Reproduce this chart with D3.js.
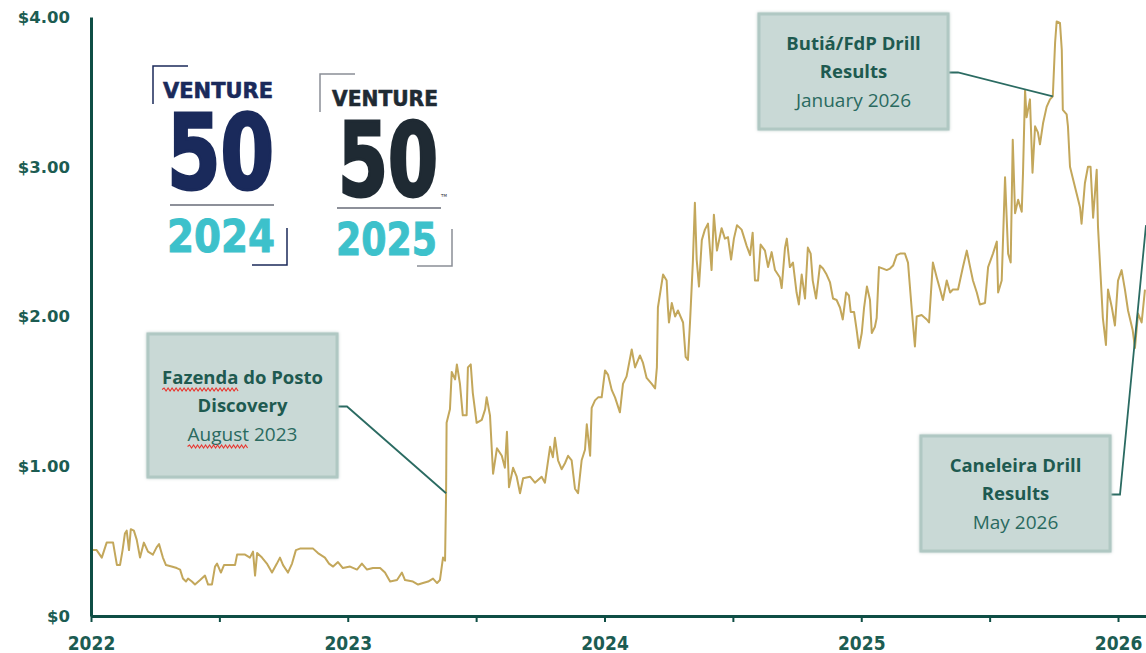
<!DOCTYPE html>
<html>
<head>
<meta charset="utf-8">
<script src="https://cdn.jsdelivr.net/npm/d3@7"></script>
<style>
	body { margin: 0; background: #fff; }
	svg { display: block; }
</style>
</head>
<body>
<div id="chart"></div>
<script>
// share price, [decimal year, close $]
const prices2022 = [
	[2022.003,0.44],[2022.022,0.44],[2022.042,0.39],[2022.061,0.49],[2022.086,0.49],[2022.101,0.34],[2022.113,0.34],[2022.123,0.44],[2022.132,0.55],[2022.139,0.57],
	[2022.148,0.44],[2022.155,0.58],[2022.167,0.57],[2022.178,0.51],[2022.191,0.39],[2022.206,0.49],[2022.222,0.43],[2022.241,0.41],[2022.256,0.46],[2022.265,0.48],
	[2022.280,0.39],[2022.292,0.34],[2022.314,0.33],[2022.334,0.32],[2022.347,0.31],[2022.358,0.25],[2022.370,0.23],[2022.378,0.25],[2022.393,0.23],[2022.405,0.21],
	[2022.425,0.24],[2022.444,0.27],[2022.456,0.21],[2022.471,0.21],[2022.483,0.33],[2022.491,0.35],[2022.506,0.29],[2022.518,0.34],[2022.561,0.34],[2022.569,0.41],
	[2022.600,0.41],[2022.619,0.39],[2022.631,0.43],[2022.639,0.27],[2022.647,0.42],[2022.666,0.39],[2022.685,0.35],[2022.705,0.29],[2022.724,0.35],[2022.736,0.39],
	[2022.748,0.34],[2022.767,0.29],[2022.783,0.35],[2022.798,0.44],[2022.814,0.45],[2022.865,0.45],[2022.884,0.42],[2022.911,0.39],[2022.927,0.35],[2022.943,0.33],
	[2022.962,0.36],[2022.981,0.32]
];
const prices2023 = [
	[2023.009,0.33],[2023.036,0.31],[2023.055,0.35],[2023.075,0.31],[2023.098,0.32],[2023.126,0.32],[2023.145,0.29],[2023.165,0.23],[2023.192,0.24],[2023.211,0.29],
	[2023.223,0.24],[2023.254,0.23],[2023.274,0.21],[2023.293,0.22],[2023.313,0.23],[2023.332,0.25],[2023.348,0.22],[2023.359,0.24],[2023.371,0.39],[2023.379,0.37],
	[2023.383,0.82],[2023.384,1.07],[2023.385,1.29],[2023.398,1.38],[2023.405,1.63],[2023.418,1.58],[2023.425,1.68],[2023.437,1.55],[2023.448,1.34],[2023.463,1.34],
	[2023.468,1.66],[2023.479,1.68],[2023.487,1.49],[2023.502,1.29],[2023.522,1.31],[2023.535,1.38],[2023.541,1.46],[2023.554,1.34],[2023.566,0.95],[2023.581,1.12],
	[2023.600,1.07],[2023.612,0.99],[2023.620,1.23],[2023.628,0.86],[2023.644,0.99],[2023.658,0.93],[2023.671,0.82],[2023.683,0.92],[2023.710,0.93],[2023.729,0.89],
	[2023.755,0.93],[2023.768,0.89],[2023.788,1.13],[2023.799,1.06],[2023.807,1.19],[2023.819,1.04],[2023.833,0.98],[2023.846,1.02],[2023.858,1.07],[2023.872,1.04],
	[2023.885,0.85],[2023.897,0.82],[2023.911,1.04],[2023.924,1.11],[2023.931,1.28],[2023.944,1.07],[2023.950,1.39],[2023.963,1.44],[2023.975,1.46],[2023.989,1.46]
];
const prices2024 = [
	[2024.002,1.64],[2024.014,1.61],[2024.028,1.51],[2024.041,1.46],[2024.060,1.36],[2024.072,1.55],[2024.086,1.60],[2024.106,1.78],[2024.119,1.66],[2024.138,1.74],
	[2024.150,1.69],[2024.164,1.59],[2024.184,1.55],[2024.197,1.52],[2024.204,1.66],[2024.208,2.06],[2024.228,2.28],[2024.242,2.24],[2024.247,2.06],[2024.251,1.96],
	[2024.262,2.09],[2024.275,2.00],[2024.286,2.04],[2024.306,1.96],[2024.316,1.73],[2024.325,1.71],[2024.333,1.96],[2024.344,2.36],[2024.352,2.76],[2024.359,2.38],
	[2024.368,2.20],[2024.379,2.51],[2024.391,2.58],[2024.403,2.62],[2024.417,2.31],[2024.426,2.68],[2024.438,2.44],[2024.456,2.59],[2024.469,2.52],[2024.481,2.53],
	[2024.493,2.38],[2024.504,2.52],[2024.516,2.61],[2024.534,2.58],[2024.554,2.47],[2024.567,2.41],[2024.577,2.56],[2024.586,2.24],[2024.598,2.24],[2024.608,2.48],
	[2024.625,2.44],[2024.637,2.33],[2024.651,2.43],[2024.664,2.31],[2024.683,2.26],[2024.690,2.19],[2024.703,2.46],[2024.710,2.52],[2024.722,2.33],[2024.734,2.36],
	[2024.748,2.16],[2024.757,2.08],[2024.768,2.28],[2024.781,2.12],[2024.792,2.46],[2024.803,2.42],[2024.811,2.24],[2024.824,2.12],[2024.839,2.34],[2024.851,2.32],
	[2024.865,2.28],[2024.878,2.23],[2024.890,2.12],[2024.904,2.11],[2024.917,2.06],[2024.928,1.98],[2024.941,2.16],[2024.952,2.14],[2024.959,2.03],[2024.972,2.03],
	[2024.982,1.91],[2024.991,1.79]
];
const prices2025 = [
	[2025.002,1.89],[2025.011,2.06],[2025.022,2.20],[2025.034,2.11],[2025.041,1.89],[2025.053,1.93],[2025.060,1.99],[2025.069,2.33],[2025.085,2.32],[2025.099,2.31],
	[2025.112,2.32],[2025.124,2.34],[2025.138,2.41],[2025.151,2.42],[2025.170,2.42],[2025.182,2.36],[2025.196,2.06],[2025.209,1.80],[2025.216,2.00],[2025.235,2.01],
	[2025.255,1.98],[2025.264,1.96],[2025.279,2.36],[2025.294,2.26],[2025.307,2.18],[2025.318,2.11],[2025.333,2.24],[2025.346,2.16],[2025.357,2.18],[2025.377,2.18],
	[2025.396,2.33],[2025.411,2.44],[2025.424,2.33],[2025.435,2.24],[2025.450,2.16],[2025.462,2.08],[2025.482,2.09],[2025.494,2.33],[2025.513,2.42],[2025.528,2.50],
	[2025.533,2.16],[2025.547,2.24],[2025.560,2.93],[2025.572,2.42],[2025.582,2.36],[2025.590,3.18],[2025.599,2.69],[2025.611,2.78],[2025.625,2.70],[2025.630,2.96],
	[2025.638,3.51],[2025.644,3.33],[2025.657,3.45],[2025.667,2.96],[2025.677,3.27],[2025.688,3.23],[2025.696,3.15],[2025.708,3.29],[2025.722,3.40],[2025.735,3.45],
	[2025.746,3.47],[2025.755,3.83],[2025.761,3.97],[2025.774,3.96],[2025.781,3.78],[2025.785,3.38],[2025.800,3.35],[2025.805,3.27],[2025.813,3.00],[2025.823,2.93],
	[2025.839,2.82],[2025.852,2.73],[2025.858,2.62],[2025.871,2.89],[2025.883,3.00],[2025.893,3.00],[2025.903,2.66],[2025.917,2.98],[2025.922,2.60],[2025.941,1.99],
	[2025.953,1.81],[2025.961,2.18],[2025.976,2.06],[2025.988,1.94]
];
const prices2026 = [
	[2026.000,2.24],[2026.014,2.31],[2026.027,2.18],[2026.039,2.04],[2026.057,1.91],[2026.066,1.79],[2026.078,2.02],[2026.092,1.96],[2026.105,2.18]
];

const yTicks = [0, 1, 2, 3, 4];
const xTicks = [2022, 2022.5, 2023, 2023.5, 2024, 2024.5, 2025, 2025.5, 2026];
const xLabels = ["2022", "2023", "2024", "2025", "2026"];

// callouts: text lines, point the leader goes to [year, price]
const callouts = [
	{lines: ["Fazenda do Posto", "Discovery", "August 2023"], target: [2023.383, 0.82],
		box: {x: 148, y: 334, w: 189, h: 143}, squiggle: [7, null, 6]},
	{lines: ["Butiá/FdP Drill", "Results", "January 2026"], target: [2025.746, 3.47],
		box: {x: 759, y: 14, w: 189, h: 115}},
	{lines: ["Caneleira Drill", "Results", "May 2026"], target: [2026.109, 2.61],
		box: {x: 921, y: 436, w: 189, h: 115}}
];

const series = prices2022.concat(prices2023, prices2024, prices2025, prices2026)
	.map(d => ({year: d[0], price: d[1]}));

const width = 1146, height = 653;
const margin = {top: 17, right: 0, bottom: 37, left: 91};

const svg = d3.select("#chart").append("svg")
	.attr("width", width)
	.attr("height", height);

const defs = svg.append("defs");
defs.append("filter").attr("id", "glow")
	.attr("x", "-10%").attr("y", "-10%").attr("width", "120%").attr("height", "120%")
	.append("feDropShadow")
	.attr("dx", 0).attr("dy", 0)
	.attr("stdDeviation", 1.5)
	.attr("flood-color", "#b3c7c3")
	.attr("flood-opacity", 0.9);

const x = d3.scaleLinear()
	.domain([2022, 2026.109])
	.range([margin.left, width - margin.right]);
const y = d3.scaleLinear()
	.domain([0, 4])
	.range([height - margin.bottom, margin.top]);

const axisColor = "#0f4e45";
const labelColor = "#1c5c52";

// logos
function logo(g, o) {
	g.append("path")
		.attr("d", `M${o.tl[0] + 35},${o.tl[1]}H${o.tl[0]}V${o.tl[1] + 38}`)
		.attr("fill", "none").attr("stroke", o.bracket).attr("stroke-width", 1.5);
	g.append("path")
		.attr("d", `M${o.br[0] - 35},${o.br[1]}H${o.br[0]}V${o.br[1] - 37}`)
		.attr("fill", "none").attr("stroke", o.bracket).attr("stroke-width", 1.5);
	g.append("text")
		.attr("x", o.venture[0]).attr("y", o.venture[1])
		.attr("textLength", o.venture[2]).attr("lengthAdjust", "spacingAndGlyphs")
		.style("font", "bold 22px 'DejaVu Sans'")
		.attr("fill", o.dark).attr("stroke", o.dark).attr("stroke-width", 0.6)
		.text("VENTURE");
	g.append("text")
		.attr("x", o.fifty[0]).attr("y", o.fifty[1])
		.attr("textLength", o.fifty[2]).attr("lengthAdjust", "spacingAndGlyphs")
		.style("font", `bold ${o.fifty[3]}px 'DejaVu Sans Condensed'`)
		.attr("fill", o.dark).attr("stroke", o.dark).attr("stroke-width", 3)
		.text("50");
	g.append("line")
		.attr("x1", o.rule[0]).attr("x2", o.rule[0] + 104)
		.attr("y1", o.rule[1]).attr("y2", o.rule[1])
		.attr("stroke", "#8d9099").attr("stroke-width", 1.8);
	g.append("text")
		.attr("x", o.year[0]).attr("y", o.year[1])
		.attr("textLength", o.year[2]).attr("lengthAdjust", "spacingAndGlyphs")
		.style("font", "bold 45px 'DejaVu Sans'")
		.attr("fill", "#3dc1cb").attr("stroke", "#3dc1cb").attr("stroke-width", 1)
		.text(o.label);
	if (o.tm) {
		g.append("text").attr("x", o.tm[0]).attr("y", o.tm[1])
			.style("font", "4px 'DejaVu Sans'").attr("fill", o.dark).text("TM");
	}
}
const logos = svg.append("g");
logo(logos, {tl: [153, 66], br: [287, 265], bracket: "#1b2a5a", dark: "#1a2a5b",
	venture: [163, 98, 110], fifty: [167, 189, 107, 104], rule: [170, 205], year: [167, 252, 108], label: "2024"});
logo(logos, {tl: [320, 74], br: [452, 266], bracket: "#8a8f96", dark: "#1f2a33",
	venture: [332, 106, 106], fifty: [338, 196, 100, 102], rule: [337, 208], year: [336, 255, 101], label: "2025", tm: [441, 197]});

// price line
const line = d3.line()
	.x(d => x(d.year))
	.y(d => y(d.price));

svg.append("path")
	.datum(series)
	.attr("fill", "none")
	.attr("stroke", "#c3a75b")
	.attr("stroke-width", 2)
	.attr("stroke-linejoin", "round")
	.attr("d", line);

// axes
const yAxis = svg.append("g")
	.attr("transform", `translate(${margin.left},0)`)
	.call(d3.axisLeft(y)
		.tickValues(yTicks)
		.tickSize(0)
		.tickPadding(21)
		.tickFormat(d => d === 0 ? "$0" : "$" + d3.format(".2f")(d)));
yAxis.select(".domain").attr("stroke", axisColor).attr("stroke-width", 3);
yAxis.selectAll("text")
	.attr("fill", labelColor)
	.style("font", "bold 16.5px 'DejaVu Sans'");

const xAxis = svg.append("g")
	.attr("transform", `translate(0,${height - margin.bottom})`)
	.call(d3.axisBottom(x)
		.tickValues(xTicks)
		.tickSize(6)
		.tickSizeOuter(0)
		.tickPadding(15)
		.tickFormat(d => Number.isInteger(d) ? xLabels[d - 2022] : ""));
xAxis.select(".domain").attr("stroke", axisColor).attr("stroke-width", 3);
xAxis.selectAll(".tick line").attr("stroke", axisColor).attr("stroke-width", 2);
xAxis.selectAll("text")
	.attr("fill", labelColor)
	.style("font", "bold 19px 'DejaVu Sans Condensed'");

// callouts
const cg = svg.append("g");
callouts.forEach(c => {
	const b = c.box;
	const ly = b.y + b.h / 2 + 1;
	cg.append("path")
		.attr("d", `M${b.x + b.w},${ly}H${b.x + b.w + 10}L${x(c.target[0])},${y(c.target[1])}`)
		.attr("fill", "none")
		.attr("stroke", "#2b6b62")
		.attr("stroke-width", 1.8);
	cg.append("rect")
		.attr("x", b.x).attr("y", b.y)
		.attr("width", b.w).attr("height", b.h)
		.attr("fill", "#c9d9d6")
		.attr("stroke", "#b0c8c3")
		.attr("stroke-width", 3)
		.attr("filter", "url(#glow)");
	const cx = b.x + b.w / 2;
	const top = b.y + b.h / 2 - 28;
	c.lines.forEach((t, i) => {
		const txt = cg.append("text")
			.attr("x", cx)
			.attr("y", top + i * 28.5 + 6)
			.attr("text-anchor", "middle")
			.attr("fill", i < 2 ? "#1e5a50" : "#2a6a60")
			.style("font", i < 2 ? "bold 18.5px 'Open Sans'" : "19px 'Open Sans'")
			.text(t);
		if (c.squiggle && c.squiggle[i]) {
			const node = txt.node();
			const x0 = cx - node.getComputedTextLength() / 2;
			const x1 = x0 + node.getSubStringLength(0, c.squiggle[i]);
			const yb = top + i * 28.5 + 12;
			let d = `M${x0},${yb}`;
			for (let xx = x0 + 2, up = true; xx <= x1; xx += 2, up = !up) {
				d += `L${xx},${yb + (up ? -1.5 : 1.5)}`;
			}
			cg.append("path").attr("d", d)
				.attr("fill", "none").attr("stroke", "#e8362f").attr("stroke-width", 1.1);
		}
	});
});
</script>
</body>
</html>
